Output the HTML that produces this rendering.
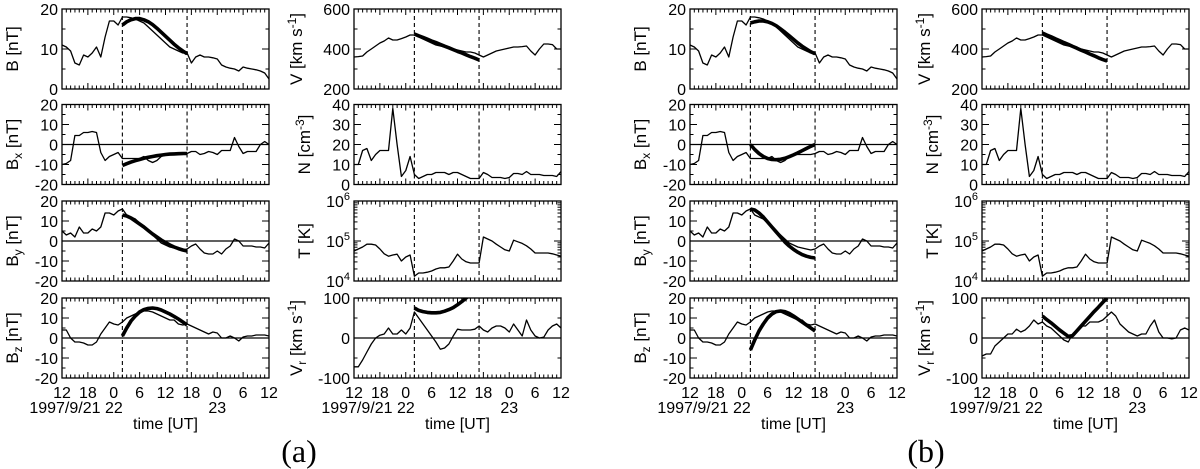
<!DOCTYPE html>
<html><head><meta charset="utf-8"><style>
html,body{margin:0;padding:0;background:#fff;}
svg{display:block;font-family:"Liberation Sans",sans-serif;}
</style></head><body>
<svg id="fig" width="1200" height="469" viewBox="0 0 1200 469" xmlns="http://www.w3.org/2000/svg"></svg>
<script>
// ---- data (hours from 1997/9/21 12:00 UT) ----
const hours = [0,1,2,3,4,5,6,7,8,9,10,11,12,13,14,15,16,17,18,19,20,21,22,23,24,25,26,27,28,29,30,31,32,33,34,35,36,37,38,39,40,41,42,43,44,45,46,47,48];
const obsB  = [11,10.5,9.5,6.5,6,8.5,8,9,10.5,8,13,17,17,16,18,18,17.8,17.5,17,16.5,15.5,14.5,13.5,12.5,11.5,10.5,10,9.5,9,9,6.5,8,8.5,8,8,7.8,7.5,6,5.5,5.2,5,4.5,5.5,5.2,5,4.8,4.5,4,2.5];
const obsV  = [360,362,365,385,400,415,430,440,455,445,445,452,460,470,470,460,450,440,430,420,415,410,405,400,395,390,385,385,380,370,360,370,380,390,395,400,405,410,410,412,415,390,370,400,425,425,422,400,400];
const obsBx = [-10,-9.5,-8,4.5,4.5,6,6,6.5,6,-4,-8,-6,-5,-4,-7,-7,-7,-7,-7,-6,-8,-9,-8,-6,-5,-5,-5,-5,-5,-4.5,-3.5,-3.5,-5,-4.5,-3.5,-4,-5,-3,-3,-3,3.5,-1,-4.5,-3.5,-3.5,-3.5,0,1.5,0];
const obsN  = [10,10,17,18,12,15,17,17,17,38,20,4,7,14,5,3,4,5,5,6,6,6,5,6,6,5,4,3,3,3,6,5,3.5,3.5,3.5,3,3.5,5.5,5.5,5,6.5,5,5,5,4.5,4.5,4.5,4,6.5];
const obsBy = [5,3,4,2,7,4,4,6,5,7,14,14,13,15,16,13,12,11,9,7,5,3,1,-1,-2,-3,-3.5,-4,-4.5,-4,-2.5,-1.5,-4,-6,-6.5,-6.5,-5,-6.5,-4,-2.5,1,0,-2.5,-2.5,-2.5,-3,-3,-3.5,-1];
const obsLogT = [4.75,4.8,4.85,4.92,4.92,4.9,4.8,4.68,4.62,4.65,4.67,4.5,4.6,4.65,4.12,4.2,4.2,4.22,4.25,4.3,4.33,4.33,4.35,4.5,4.67,4.55,4.48,4.45,4.45,4.45,5.1,5.05,5.0,4.92,4.85,4.78,4.75,5.02,4.98,4.94,4.88,4.8,4.7,4.7,4.7,4.7,4.68,4.65,4.62];
const obsBz = [4,4,0,-2,-2,-2.5,-3.5,-3.5,-2,2,5,8,7,6.5,8,10,11,12,13,13.5,13.5,13,12,11,10,9,9,7,6.5,7,6,5,4,3,2,3,2.5,0,0,1,0,-1.5,0.5,1,1,1.5,1.5,1.5,1];
const obsVrA = [-72,-72,-55,-35,-15,0,7,10,25,10,10,20,10,25,65,50,35,20,5,-10,-28,-25,-15,5,22,20,20,20,22,30,20,15,25,30,30,25,15,35,20,5,45,20,5,0,2,20,30,35,25];
const obsVrB = [-45,-40,-40,-20,-10,0,10,10,22,15,20,30,45,35,40,30,25,15,5,-5,-10,10,20,30,30,40,40,40,45,55,65,55,35,25,15,10,5,10,10,30,45,15,0,0,-2,0,20,25,20];
const fitHours = [14,15,16,17,18,19,20,21,22,23,24,25,26,27,28,29];
const fitA_B  = [16,16.8,17.3,17.6,17.6,17.3,16.8,16.1,15.2,14.2,13.2,12.2,11.2,10.3,9.5,8.8];
const fitA_V  = [475,466,458,449,440,432,423,414,406,397,388,380,371,362,354,345];
const fitA_Bx = [-10.5,-9.6,-8.8,-8.1,-7.5,-6.9,-6.4,-6,-5.6,-5.3,-5,-4.8,-4.7,-4.6,-4.5,-4.5];
const fitA_By = [13,12.5,11.5,10,8.5,7,5.2,3.5,2,0.5,-0.8,-2,-3,-3.8,-4.5,-5];
const fitA_Bz = [1,5,8.5,11,13,14.2,14.8,15,14.7,14,13,12,10.8,9.5,8,6.5];
const fitA_Vr = [75,69,66,64,63,63,64,67,71,76,83,91,100,110,120,130];
const fitB_B  = [16.5,16.8,17,17,16.8,16.4,15.8,15,14.2,13.3,12.4,11.5,10.7,10,9.3,8.8];
const fitB_V  = [480,470,461,451,442,432,423,413,404,394,385,375,366,356,347,340];
const fitB_Bx = [0,-2.5,-4.5,-6,-7,-7.5,-7.6,-7.4,-6.9,-6.1,-5.2,-4.2,-3.1,-2,-0.9,0];
const fitB_By = [16,15.5,14,12,9.5,7,4.5,2,-0.5,-2.5,-4.2,-5.6,-6.8,-7.6,-8.2,-8.5];
const fitB_Bz = [-6,-1,3.5,7,10,12,13.2,13.5,13.2,12.3,11,9.5,8,6.5,5,3.5];
const fitB_Vr = [55,46,38,29,20,12,4,6,18,30,42,54,66,77,89,100];
const dashHours = [14,29];
const xTickLabels = ["12","18","0","6","12","18","0","6","12"];

const NS="http://www.w3.org/2000/svg";
const svg=document.getElementById('fig');
function mk(tag,attrs,parent){const e=document.createElementNS(NS,tag);for(const k in attrs)e.setAttribute(k,attrs[k]);(parent||svg).appendChild(e);return e;}

const W=207, H=80;
const rowsY=[9,104.5,201,298];
let clipId=0;

function panel(x0,y0,cfg){
  const g=mk('g',{});
  
  
  const xs=t=>x0+t/48*W;
  const ys=v=>{const u=cfg.log?Math.log10(v):v;return y0+H-(u-cfg.min)/(cfg.max-cfg.min)*H;};
  const yl=u=>y0+H-(u-cfg.min)/(cfg.max-cfg.min)*H;
  clipId++;
  const cp=mk('clipPath',{id:'c'+clipId},g);mk('rect',{x:x0,y:y0,width:W,height:H},cp);
  if(cfg.zero){const z=mk('line',{x1:x0,x2:x0+W,y1:ys(0),y2:ys(0),stroke:'#000','stroke-width':1.2},g);
    }
  dashHours.forEach(h=>{const d=mk('line',{x1:xs(h),x2:xs(h),y1:y0,y2:y0+H,stroke:'#000','stroke-width':1.1,'stroke-dasharray':'4,3'},g);
    });
  const pts=hours.map((h,i)=>xs(h).toFixed(1)+','+ys(cfg.obs[i]).toFixed(1)).join(' ');
  const o=mk('polyline',{points:pts,fill:'none',stroke:'#000','stroke-width':1.3,'stroke-linejoin':'round','clip-path':'url(#c'+clipId+')'},g);
  
  if(cfg.fit){const fp=fitHours.map((h,i)=>xs(h).toFixed(1)+','+ys(cfg.fit[i]).toFixed(1)).join(' ');
    const f=mk('polyline',{points:fp,fill:'none',stroke:'#000','stroke-width':3.6,'stroke-linejoin':'round','clip-path':'url(#c'+clipId+')'},g);
    }
  mk('rect',{x:x0,y:y0,width:W,height:H,fill:'none',stroke:'#000','stroke-width':1.3},g);
  for(let h=0;h<=48;h++){const L=h%6===0?6:3.5;const x=xs(h);
    mk('line',{x1:x,x2:x,y1:y0+H,y2:y0+H-L,stroke:'#000','stroke-width':1},g);
    mk('line',{x1:x,x2:x,y1:y0,y2:y0+L,stroke:'#000','stroke-width':1},g);}
  cfg.major.forEach(u=>{const y=yl(u);mk('line',{x1:x0,x2:x0+7,y1:y,y2:y,stroke:'#000','stroke-width':1},g);mk('line',{x1:x0+W,x2:x0+W-7,y1:y,y2:y,stroke:'#000','stroke-width':1},g);});
  cfg.minor.forEach(u=>{const y=yl(u);mk('line',{x1:x0,x2:x0+3.5,y1:y,y2:y,stroke:'#000','stroke-width':1},g);mk('line',{x1:x0+W,x2:x0+W-3.5,y1:y,y2:y,stroke:'#000','stroke-width':1},g);});
  cfg.labels.forEach((lab,i)=>{const u=cfg.major[i];const t=mk('text',{x:x0-4,y:yl(u)+6,'text-anchor':'end','font-size':16},g);
    if(cfg.log){t.textContent='10';const s=mk('tspan',{dy:-7,'font-size':11},t);s.textContent=lab;}else t.textContent=lab;
    });
  const tt=mk('text',{transform:`translate(${x0-cfg.titleOff},${y0+H/2}) rotate(-90)`,'text-anchor':'middle','font-size':17},g);
  tt.innerHTML=cfg.title;
  
  return {xs};
}
function bottomAxis(x0){
  const xs=t=>x0+t/48*W; const y=398;
  xTickLabels.forEach((l,i)=>{const t=mk('text',{x:xs(i*6),y:y,'text-anchor':'middle','font-size':16});t.textContent=l;
    });
  const d=mk('text',{x:xs(12)+9,y:413,'text-anchor':'end','font-size':16});d.textContent='1997/9/21 22';
  
  const d2=mk('text',{x:xs(36),y:413,'text-anchor':'middle','font-size':16});d2.textContent='23';
  
  const tl=mk('text',{x:x0+W/2,y:429,'text-anchor':'middle','font-size':16});tl.textContent='time [UT]';
  
}
const bL={min:-20,max:20,zero:true,major:[-20,-10,0,10,20],minor:[-15,-5,5,15],labels:['-20','-10','0','10','20'],titleOff:44};
function figure(xL,xR,f){
  panel(xL,rowsY[0],{name:'B',min:0,max:20,major:[0,10,20],minor:[5,15],labels:['0','10','20'],obs:obsB,fit:f.B,title:'B [nT]',titleOff:44});
  panel(xL,rowsY[1],Object.assign({},bL,{name:'Bx',obs:obsBx,fit:f.Bx,title:'B<tspan font-size="12" dy="4">x</tspan><tspan dy="-4"> [nT]</tspan>'}));
  panel(xL,rowsY[2],Object.assign({},bL,{name:'By',obs:obsBy,fit:f.By,title:'B<tspan font-size="12" dy="4">y</tspan><tspan dy="-4"> [nT]</tspan>'}));
  panel(xL,rowsY[3],Object.assign({},bL,{name:'Bz',obs:obsBz,fit:f.Bz,title:'B<tspan font-size="12" dy="4">z</tspan><tspan dy="-4"> [nT]</tspan>'}));
  panel(xR,rowsY[0],{name:'V',min:200,max:600,major:[200,400,600],minor:[300,500],labels:['200','400','600'],obs:obsV,fit:f.V,title:'V [km s<tspan font-size="12" dy="-6">-1</tspan><tspan dy="6">]</tspan>',titleOff:52});
  panel(xR,rowsY[1],{name:'N',min:0,max:40,major:[0,10,20,30,40],minor:[5,15,25,35],labels:['0','10','20','30','40'],obs:obsN,title:'N [cm<tspan font-size="12" dy="-6">-3</tspan><tspan dy="6">]</tspan>',titleOff:44});
  const tMin=[];for(let d=4;d<6;d++)for(let k=2;k<10;k++)tMin.push(d+Math.log10(k));
  panel(xR,rowsY[2],{name:'T',min:4,max:6,log:true,major:[4,5,6],minor:tMin,labels:['4','5','6'],obs:obsLogT.map(v=>Math.pow(10,v)),title:'T [K]',titleOff:44});
  panel(xR,rowsY[3],{name:'Vr',min:-100,max:100,zero:true,major:[-100,0,100],minor:[-50,50],labels:['-100','0','100'],obs:f.Vro,fit:f.Vr,title:'V<tspan font-size="12" dy="4">r</tspan><tspan dy="-4"> [km s</tspan><tspan font-size="12" dy="-6">-1</tspan><tspan dy="6">]</tspan>',titleOff:52});
  bottomAxis(xL);bottomAxis(xR);
}
figure(62,354,{B:fitA_B,V:fitA_V,Bx:fitA_Bx,By:fitA_By,Bz:fitA_Bz,Vr:fitA_Vr,Vro:obsVrA});
figure(690,982,{B:fitB_B,V:fitB_V,Bx:fitB_Bx,By:fitB_By,Bz:fitB_Bz,Vr:fitB_Vr,Vro:obsVrB});
const la=mk('text',{x:299,y:462,'text-anchor':'middle','font-size':32,'font-family':'Liberation Serif, serif'});la.textContent='(a)';

const lb=mk('text',{x:926,y:462,'text-anchor':'middle','font-size':32,'font-family':'Liberation Serif, serif'});lb.textContent='(b)';

</script>
</body></html>
